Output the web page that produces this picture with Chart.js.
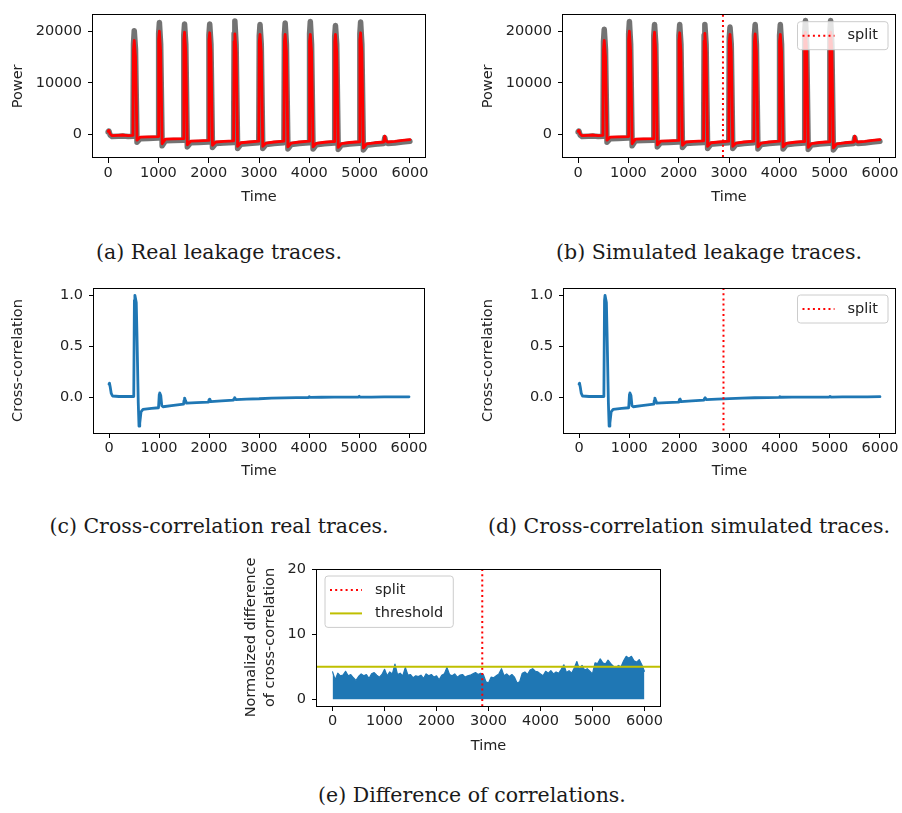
<!DOCTYPE html>
<html>
<head>
<meta charset="utf-8">
<title>Leakage traces</title>
<script src="https://cdn.jsdelivr.net/npm/chart.js@4.4.1/dist/chart.umd.min.js"></script>
<style>
  body{margin:0;background:#fff;}
  #page{position:relative;width:902px;height:813px;overflow:hidden;background:#fff;}
  #page canvas{position:absolute;}
  .cap{position:absolute;font-family:"DejaVu Serif",serif;font-size:20.5px;line-height:28px;color:#1a1a1a;white-space:nowrap;transform:translateX(-50%);}
</style>
</head>
<body>
<div id="page">
  <canvas id="chartA" width="440" height="210" style="left:0;top:0"></canvas>
  <canvas id="chartB" width="442" height="210" style="left:460px;top:0"></canvas>
  <canvas id="chartC" width="440" height="215" style="left:0;top:270px"></canvas>
  <canvas id="chartD" width="442" height="215" style="left:460px;top:270px"></canvas>
  <canvas id="chartE" width="440" height="218" style="left:230px;top:540px"></canvas>

  <div class="cap" style="left:219px;top:238px">(a) Real leakage traces.</div>
  <div class="cap" style="left:709px;top:238px">(b) Simulated leakage traces.</div>
  <div class="cap" style="left:219px;top:512px">(c) Cross-correlation real traces.</div>
  <div class="cap" style="left:689px;top:512px">(d) Cross-correlation simulated traces.</div>
  <div class="cap" style="left:472px;top:781px">(e) Difference of correlations.</div>
</div>

<script>
/* =========================
   DATA
========================= */

const timeTicks = [0, 1000, 2000, 3000, 4000, 5000, 6000];
const powerTicks = [0, 10000, 20000];
const corrTicks = [0.0, 0.5, 1.0];
const diffTicks = [0, 10, 20];

const SPLIT_AT = 2880;
const THRESHOLD = 5;

// leakage traces (a) and (b): mean trace (red) and spread of traces (gray)
const traceTime = [
  0, 15, 40, 80, 200, 300, 400,
  495, 505, 520, 545, 575, 640, 800,
  995, 1005, 1020, 1045, 1075, 1140, 1300,
  1495, 1505, 1520, 1545, 1575, 1640, 1800,
  1995, 2005, 2020, 2045, 2075, 2140, 2300,
  2495, 2505, 2520, 2545, 2575, 2640, 2800,
  2995, 3005, 3020, 3045, 3075, 3140, 3300,
  3495, 3505, 3520, 3545, 3575, 3640, 3800,
  3995, 4005, 4020, 4045, 4075, 4140, 4300,
  4495, 4505, 4520, 4545, 4575, 4640, 4800,
  4995, 5005, 5020, 5045, 5075, 5140, 5300,
  5480, 5500, 5520, 5560, 5700, 5850, 6000
];

const realMean = [
  600, 800, 100, -200, -150, -100, -200,
  -150, 16500, 18200, 15000, -1100, -500, -450,
  -400, 18500, 20000, 16000, -1800, -900, -850,
  -800, 18300, 19800, 16000, -2000, -1300, -1250,
  -1150, 18300, 19700, 16000, -2100, -1450, -1350,
  -1250, 18000, 19500, 16000, -2300, -1600, -1450,
  -1300, 18000, 19400, 16000, -2300, -1650, -1450,
  -1300, 18000, 19400, 16000, -2400, -1650, -1450,
  -1300, 18000, 19400, 16000, -2400, -1700, -1500,
  -1350, 18000, 19400, 16000, -2500, -1750, -1550,
  -1400, 18300, 19700, 16000, -2600, -1800, -1600,
  -1450, -300, -1200, -1450, -1350, -1150, -1000
];

const realSpread = [
  500, 700, -100, -400, -350, -300, -400,
  -350, 17500, 20100, 16500, -1500, -800, -750,
  -700, 19500, 21700, 17500, -2200, -1200, -1150,
  -1100, 19300, 21400, 17500, -2400, -1600, -1550,
  -1450, 19300, 21400, 17500, -2500, -1750, -1650,
  -1550, 19500, 22000, 17500, -2700, -1900, -1750,
  -1600, 19100, 21300, 17500, -2700, -1950, -1750,
  -1600, 19300, 21600, 17500, -2800, -1950, -1750,
  -1600, 19500, 21900, 17500, -2800, -2000, -1800,
  -1650, 19000, 21100, 17500, -2900, -2050, -1850,
  -1700, 19500, 21800, 17500, -3000, -2100, -1900,
  -1750, -600, -1500, -1750, -1650, -1450, -1300
];

const simMean = [
  600, 800, 100, -200, -150, -100, -200,
  -150, 16500, 18200, 15000, -1100, -500, -450,
  -400, 18500, 20000, 16000, -1800, -900, -850,
  -800, 18300, 19800, 16000, -2000, -1300, -1250,
  -1150, 18200, 19700, 16000, -2100, -1450, -1350,
  -1250, 18100, 19600, 16000, -2300, -1600, -1450,
  -1300, 17900, 19400, 16000, -2300, -1650, -1450,
  -1300, 18000, 19500, 16000, -2400, -1650, -1450,
  -1300, 18000, 19400, 16000, -2400, -1700, -1500,
  -1350, 18300, 19800, 16000, -2500, -1750, -1550,
  -1400, 18300, 19800, 16000, -2600, -1800, -1600,
  -1450, -300, -1200, -1450, -1350, -1150, -1000
];

const simSpread = [
  500, 700, -100, -400, -350, -300, -400,
  -350, 18000, 20400, 16500, -1500, -800, -750,
  -700, 19500, 21900, 17500, -2200, -1200, -1150,
  -1100, 19200, 21300, 17500, -2400, -1600, -1550,
  -1450, 19200, 21300, 17500, -2500, -1750, -1650,
  -1550, 19200, 21300, 17500, -2700, -1900, -1750,
  -1600, 18700, 20800, 17500, -2700, -1950, -1750,
  -1600, 19200, 21300, 17500, -2800, -1950, -1750,
  -1600, 19200, 21300, 17500, -2800, -2000, -1800,
  -1650, 19700, 22100, 17500, -2900, -2050, -1850,
  -1700, 19700, 22100, 17500, -3000, -2100, -1900,
  -1750, -600, -1500, -1750, -1650, -1450, -1300
];

// cross-correlation (c) and (d)
const corrTime = [
  0, 10, 25, 45, 70, 200, 350,
  495, 508, 518, 545, 560, 585, 600, 615, 640, 680,
  850, 990, 1005, 1015, 1035, 1055, 1080,
  1250, 1490, 1500, 1512, 1530, 1550,
  1750, 1990, 2002, 2015, 2035,
  2250, 2490, 2502, 2515, 2535,
  2750, 3000, 3250, 3500, 3750, 3990, 4005, 4025,
  4250, 4500, 4750, 4990, 5005, 5025,
  5250, 5500, 5750, 6000
];

const corrReal = [
  0.13, 0.14, 0.10, 0.04, 0.015, 0.01, 0.012,
  0.01, 0.95, 1.0, 0.93, 0.6, -0.05, -0.28, -0.25, -0.14, -0.115,
  -0.105, -0.10, 0.03, 0.045, 0.02, -0.08, -0.09,
  -0.08, -0.065, -0.03, -0.005, -0.03, -0.055,
  -0.05, -0.045, -0.02, -0.015, -0.04,
  -0.033, -0.025, -0.01, -0.002, -0.02,
  -0.015, -0.012, -0.006, -0.003, -0.001, 0.0, 0.008, 0.002,
  0.003, 0.004, 0.004, 0.005, 0.012, 0.005,
  0.005, 0.006, 0.006, 0.007
];

const corrSim = [
  0.13, 0.14, 0.10, 0.04, 0.015, 0.01, 0.012,
  0.01, 0.95, 1.0, 0.93, 0.6, -0.05, -0.28, -0.25, -0.14, -0.115,
  -0.105, -0.10, 0.03, 0.045, 0.02, -0.08, -0.09,
  -0.08, -0.065, -0.03, -0.005, -0.03, -0.055,
  -0.05, -0.045, -0.02, -0.015, -0.04,
  -0.033, -0.025, -0.01, -0.002, -0.02,
  -0.015, -0.011, -0.005, -0.002, 0.0, 0.001, 0.009, 0.003,
  0.004, 0.004, 0.005, 0.005, 0.011, 0.005,
  0.006, 0.006, 0.007, 0.008
];

// normalized difference (e): upper envelope of the noisy trace
const diffTime = [
  0, 50, 100, 150, 200, 250, 300, 350, 400, 450, 500, 550, 600, 650, 700, 750, 800, 850, 900, 950,
  1000, 1050, 1100, 1150, 1200, 1250, 1300, 1350, 1400, 1450, 1500, 1550, 1600, 1650, 1700, 1750, 1800, 1850, 1900, 1950,
  2000, 2050, 2100, 2150, 2200, 2250, 2300, 2350, 2400, 2450, 2500, 2550, 2600, 2650, 2700, 2750, 2800, 2850, 2900, 2950,
  3000, 3050, 3100, 3150, 3200, 3250, 3300, 3350, 3400, 3450, 3500, 3550, 3600, 3650, 3700, 3750, 3800, 3850, 3900, 3950,
  4000, 4050, 4100, 4150, 4200, 4250, 4300, 4350, 4400, 4450, 4500, 4550, 4600, 4650, 4700, 4750, 4800, 4850, 4900, 4950,
  5000, 5050, 5100, 5150, 5200, 5250, 5300, 5350, 5400, 5450, 5500, 5550, 5600, 5650, 5700, 5750, 5800, 5850, 5900, 5950,
  6000
];

const diffValues = [
  4.2, 3.0, 4.0, 3.6, 3.7, 4.3, 3.6, 3.8, 3.3, 2.9, 3.5, 3.9, 3.6, 3.8, 3.2, 3.9, 4.1, 3.7, 3.4, 3.8,
  4.6, 3.6, 4.2, 3.9, 5.4, 3.8, 4.0, 3.6, 4.9, 3.7, 3.8, 3.3, 3.6, 3.5, 3.7, 3.2, 3.9, 3.6, 3.8, 3.4,
  3.6, 3.0, 3.7, 3.9, 4.9, 3.8, 3.6, 3.9, 3.4, 3.7, 3.8, 3.4, 3.6, 3.7, 3.9, 4.1, 3.8, 4.0, 3.8, 2.7,
  2.5, 3.4, 3.3, 3.6, 3.9, 4.7, 3.6, 3.9, 3.5, 3.8, 3.4, 2.5, 2.7, 4.0, 4.2, 3.8, 4.5, 4.7, 4.3, 4.2,
  3.9, 3.6, 4.3, 4.0, 4.4, 3.9, 4.2, 4.0, 4.6, 5.3, 4.1, 4.4, 4.0, 4.8, 5.8, 4.6, 5.2, 4.5, 4.7, 4.3,
  3.9, 5.6, 5.5, 6.2, 5.6, 5.4, 6.0, 5.5, 5.1, 4.8, 5.2, 5.0, 5.9, 6.6, 6.3, 6.6, 5.9, 5.7, 6.1, 5.3,
  4.3
];

/* =========================
   STYLE
========================= */

const INK = "#222222";
const FONT = { family: "DejaVu Sans", size: 14.5 };
const RED = "#ff0000";
const GRAY = "rgba(100,100,100,0.9)";
const BLUE = "#1f77b4";
const OLIVE = "#bfbf00";

const splitRef = { axis: "x", value: SPLIT_AT, color: RED, width: 2, dash: [2, 3.2], label: "split" };
const thresholdRef = { axis: "y", value: THRESHOLD, color: OLIVE, width: 2, dash: [], label: "threshold" };

function pairs(xs, ys){
    return xs.map((x, i) => ({ x: x, y: ys[i] }));
}

/* =========================
   FRAME, REFERENCE LINES, LEGEND
========================= */

const framePlugin = {
    id: "frame",
    afterDatasetsDraw(chart){
        const { ctx, chartArea: a, scales } = chart;
        const refs = chart.options.plugins.frame.refs || [];
        ctx.save();
        refs.forEach(r => {
            ctx.beginPath();
            ctx.strokeStyle = r.color;
            ctx.lineWidth = r.width;
            ctx.setLineDash(r.dash);
            if (r.axis === "x"){
                const px = scales.x.getPixelForValue(r.value);
                ctx.moveTo(px, a.top);
                ctx.lineTo(px, a.bottom);
            } else {
                const py = scales.y.getPixelForValue(r.value);
                ctx.moveTo(a.left, py);
                ctx.lineTo(a.right, py);
            }
            ctx.stroke();
        });
        ctx.restore();
    },
    afterDraw(chart){
        const { ctx, chartArea: a } = chart;
        const o = chart.options.plugins.frame;
        ctx.save();
        ctx.setLineDash([]);
        ctx.strokeStyle = "#000";
        ctx.lineWidth = 1;
        ctx.strokeRect(Math.floor(a.left) - 0.5, Math.floor(a.top) + 0.5,
                       Math.round(a.right - a.left) + 1, Math.round(a.bottom - a.top));

        if (o.legend){
            const items = (o.refs || []).filter(r => r.label);
            ctx.font = FONT.size + "px \"" + FONT.family + "\"";
            const tw = Math.max(...items.map(it => ctx.measureText(it.label).width));
            const w = 5 + 32 + 13 + tw + 10;
            const h = 28 + (items.length - 1) * 23.4;
            const x0 = o.legend === "right" ? a.right - 7 - w : a.left + 8;
            const y0 = a.top + 7;
            ctx.beginPath();
            ctx.roundRect(x0, y0, w, h, 3);
            ctx.fillStyle = "rgba(255,255,255,0.8)";
            ctx.fill();
            ctx.strokeStyle = "#cccccc";
            ctx.stroke();
            items.forEach((it, i) => {
                const cy = y0 + 14 + i * 23.4;
                ctx.beginPath();
                ctx.setLineDash(it.dash);
                ctx.strokeStyle = it.color;
                ctx.lineWidth = it.width;
                ctx.moveTo(x0 + 5, cy);
                ctx.lineTo(x0 + 37, cy);
                ctx.stroke();
                ctx.setLineDash([]);
                ctx.fillStyle = INK;
                ctx.textBaseline = "middle";
                ctx.textAlign = "left";
                ctx.fillText(it.label, x0 + 50, cy);
            });
        }
        ctx.restore();
    }
};

/* =========================
   CHART BUILDER
========================= */

function buildChart(id, spec){
    const tickGrid = { display: true, drawOnChartArea: false, drawTicks: true, tickLength: 5, color: "#000", lineWidth: 1 };
    return new Chart(document.getElementById(id), {
        type: "line",
        data: { datasets: spec.datasets },
        options: {
            responsive: false,
            maintainAspectRatio: false,
            animation: false,
            layout: { padding: spec.pad },
            elements: {
                point: { radius: 0 },
                line: { tension: 0, borderJoinStyle: "round", borderCapStyle: "round" }
            },
            plugins: {
                legend: { display: false },
                tooltip: { enabled: false },
                frame: { refs: spec.refs || [], legend: spec.legend || null }
            },
            scales: {
                x: {
                    type: "linear",
                    min: -300,
                    max: 6300,
                    afterBuildTicks: s => { s.ticks = timeTicks.map(v => ({ value: v })); },
                    afterFit: s => { s.height = 52; },
                    ticks: { autoSkip: false, maxRotation: 0, minRotation: 0, padding: 2, font: FONT, color: INK, callback: v => String(v) },
                    grid: tickGrid,
                    border: { display: false },
                    title: { display: true, text: "Time", font: FONT, color: INK, padding: { top: 0, bottom: spec.xTitlePad } }
                },
                y: {
                    type: "linear",
                    min: spec.yMin,
                    max: spec.yMax,
                    afterBuildTicks: s => { s.ticks = spec.yTicks.map(v => ({ value: v })); },
                    afterFit: s => { s.width = spec.yWidth; },
                    ticks: { autoSkip: false, padding: 6, font: FONT, color: INK, callback: spec.yFormat },
                    grid: tickGrid,
                    border: { display: false },
                    title: { display: true, text: spec.yTitle, font: Object.assign({ lineHeight: 1.3 }, FONT), color: INK, padding: { top: spec.yTitlePad, bottom: 0 } }
                }
            }
        },
        plugins: [framePlugin]
    });
}

// red mean drawn on top of the gray spread (lower order = drawn last)
function traceSets(mean, spread){
    return [
        { data: pairs(traceTime, spread), borderColor: GRAY, borderWidth: 5.5, fill: false, order: 2 },
        { data: pairs(traceTime, mean), borderColor: RED, borderWidth: 2.8, fill: false, order: 1 }
    ];
}

const powerFormat = v => String(v);
const corrFormat = v => v.toFixed(1);

/* =========================
   INIT
========================= */

buildChart("chartA", {
    datasets: traceSets(realMean, realSpread),
    pad: { top: 14, right: 15, left: 0, bottom: 0 },
    yWidth: 93, yTitlePad: 8.8, xTitlePad: 3.8,
    yMin: -4550, yMax: 23200, yTicks: powerTicks, yFormat: powerFormat, yTitle: "Power"
});

buildChart("chartB", {
    datasets: traceSets(simMean, simSpread),
    pad: { top: 14, right: 7, left: 0, bottom: 0 },
    yWidth: 103, yTitlePad: 18.8, xTitlePad: 3.8,
    yMin: -4550, yMax: 23200, yTicks: powerTicks, yFormat: powerFormat, yTitle: "Power",
    refs: [splitRef], legend: "right"
});

buildChart("chartC", {
    datasets: [{ data: pairs(corrTime, corrReal), borderColor: BLUE, borderWidth: 2.8, fill: false }],
    pad: { top: 18, right: 16, left: 0, bottom: 0 },
    yWidth: 94, yTitlePad: 9.3, xTitlePad: 5.3,
    yMin: -0.347, yMax: 1.072, yTicks: corrTicks, yFormat: corrFormat, yTitle: "Cross-correlation"
});

buildChart("chartD", {
    datasets: [{ data: pairs(corrTime, corrSim), borderColor: BLUE, borderWidth: 2.8, fill: false }],
    pad: { top: 18, right: 7, left: 0, bottom: 0 },
    yWidth: 104, yTitlePad: 18.8, xTitlePad: 5.3,
    yMin: -0.347, yMax: 1.072, yTicks: corrTicks, yFormat: corrFormat, yTitle: "Cross-correlation",
    refs: [splitRef], legend: "right"
});

buildChart("chartE", {
    datasets: [{ data: pairs(diffTime, diffValues), borderColor: BLUE, backgroundColor: BLUE, borderWidth: 1.2, fill: "origin" }],
    pad: { top: 29, right: 10, left: 0, bottom: 0 },
    yWidth: 87, yTitlePad: 12.3, xTitlePad: 3.3,
    yMin: -1.03, yMax: 20, yTicks: diffTicks, yFormat: powerFormat,
    yTitle: ["Normalized difference", "of cross-correlation"],
    refs: [splitRef, thresholdRef], legend: "left"
});
</script>
</body>
</html>
